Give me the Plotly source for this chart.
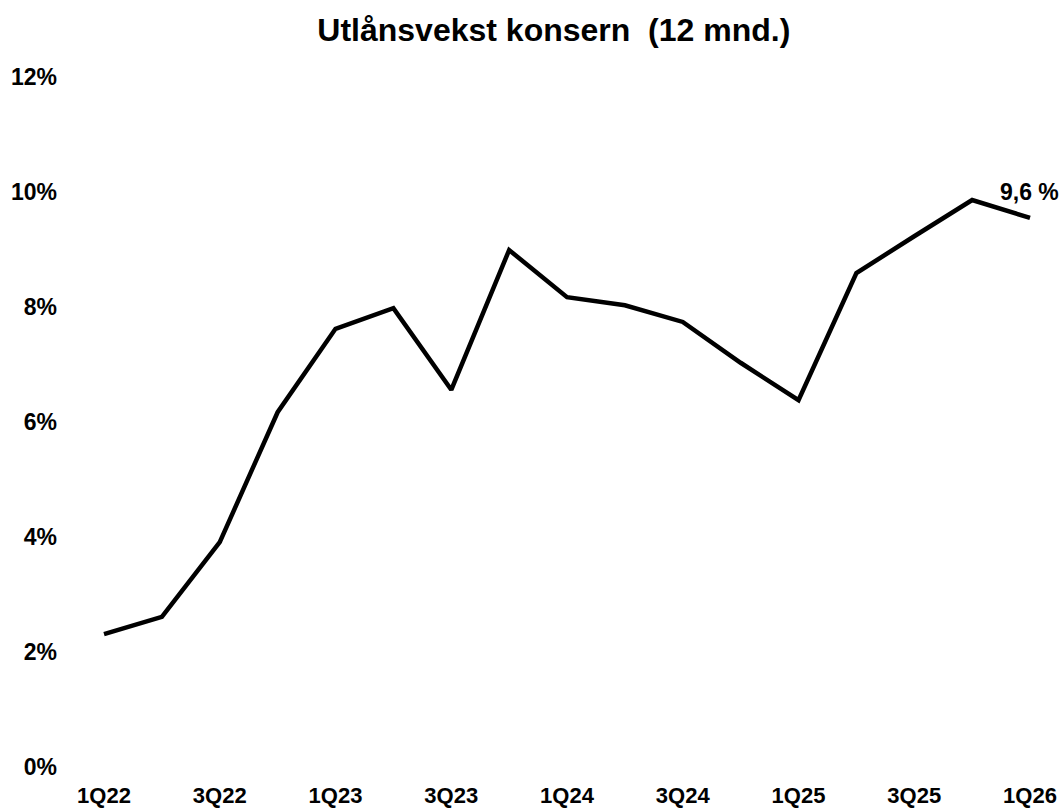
import plotly.graph_objects as go

quarters = ["1Q22", "2Q22", "3Q22", "4Q22", "1Q23", "2Q23", "3Q23", "4Q23",
            "1Q24", "2Q24", "3Q24", "4Q24", "1Q25", "2Q25", "3Q25", "4Q25", "1Q26"]
growth = [2.31, 2.61, 3.91, 6.17, 7.62, 7.98, 6.56, 8.99,
          8.17, 8.03, 7.74, 7.03, 6.38, 8.59, 9.23, 9.86, 9.55]
y_ticks = [0, 2, 4, 6, 8, 10, 12]
y_tick_labels = ["0%", "2%", "4%", "6%", "8%", "10%", "12%"]
last_label = "9,6 %"

x_idx = list(range(len(quarters)))
font_family = "Liberation Sans, Arial, sans-serif"

fig = go.Figure()
fig.add_trace(go.Scatter(
    x=x_idx, y=growth, mode="lines",
    line=dict(color="black", width=4.5),
    hoverinfo="skip", showlegend=False,
))
fig.add_annotation(
    x=x_idx[-1], y=growth[-1], text=f"<b>{last_label}</b>",
    showarrow=False, xanchor="center", yanchor="middle", yshift=26, xshift=-1,
    font=dict(family=font_family, size=23, color="black"),
)

fig.update_layout(
    width=1063, height=812,
    paper_bgcolor="white", plot_bgcolor="white",
    margin=dict(l=58, r=10, t=58, b=32),
    title=dict(text="<b>Utlånsvekst konsern  (12 mnd.)</b>", x=0.521, xanchor="center",
               y=0.963, yanchor="middle",
               font=dict(family=font_family, size=32, color="black")),
    font=dict(family=font_family, color="black"),
    xaxis=dict(
        range=[-0.795, 16.397], showgrid=False, zeroline=False, showline=False,
        tickmode="array", tickvals=x_idx[::2],
        ticktext=[f"<b>{q}</b>" for q in quarters[::2]],
        tickfont=dict(family=font_family, size=22, color="black"),
        ticks="", fixedrange=True, automargin=False,
    ),
    yaxis=dict(
        range=[-0.226, 12.33], showgrid=False, zeroline=False, showline=False,
        tickmode="array", tickvals=y_ticks,
        ticktext=[f"<b>{t}</b>" for t in y_tick_labels],
        tickfont=dict(family=font_family, size=23, color="black"),
        ticks="", fixedrange=True, automargin=False,
    ),
)

fig.write_html(
    "out.html",
    config={"displayModeBar": False},
    post_script="document.body.style.margin='0';document.body.style.overflow='hidden';",
)
